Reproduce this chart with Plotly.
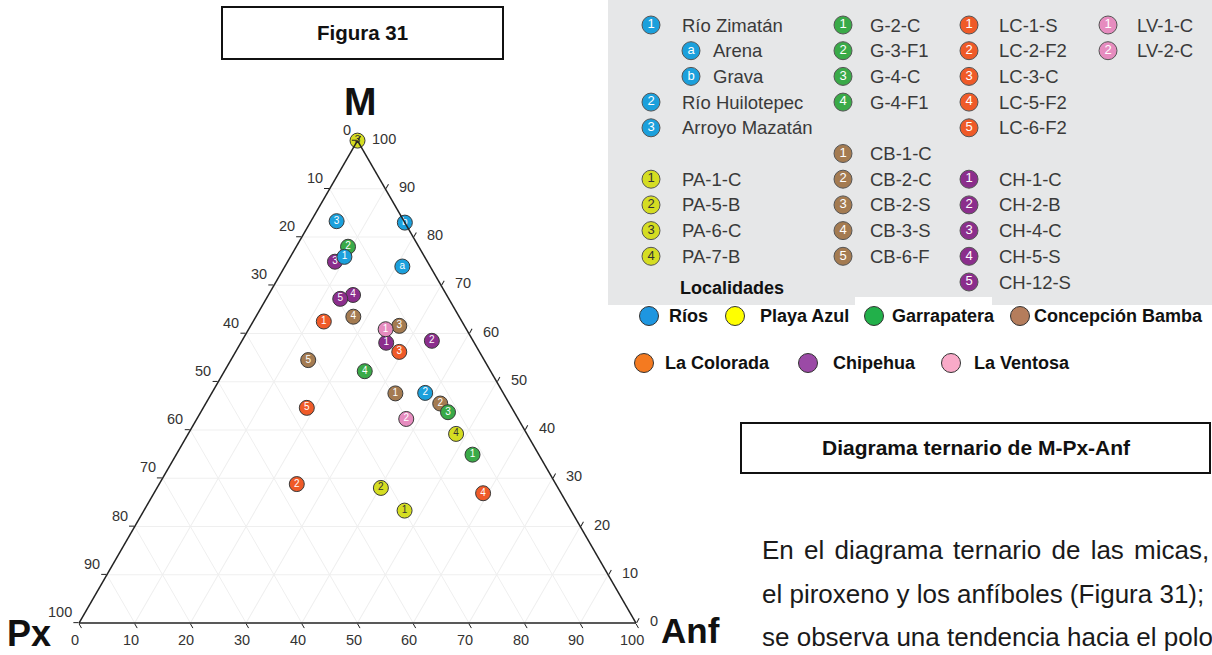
import math
import plotly.graph_objects as go

W, H = 1212, 655
FONT = "Liberation Sans, Arial, sans-serif"

# ---------------- sample compositions (%): M = micas, Px = piroxeno, Anf = anfíboles
rios_tag = ["1", "a", "b", "2", "3"]
rios_name = ["Río Zimatán", "Arena", "Grava", "Río Huilotepec", "Arroyo Mazatán"]
rios_m = [75.9, 73.9, 83.0, 47.7, 83.3]
rios_px = [14.4, 5.0, 0.0, 14.0, 12.1]
rios_anf = [9.7, 21.1, 17.0, 38.3, 4.6]

pa_name = ["PA-1-C", "PA-5-B", "PA-6-C", "PA-7-B"]
pa_m = [23.3, 28.0, 100.0, 39.2]
pa_px = [29.9, 31.8, 0.0, 12.7]
pa_anf = [46.8, 40.2, 0.0, 48.1]

g_name = ["G-2-C", "G-3-F1", "G-4-C", "G-4-F1"]
g_m = [34.9, 78.0, 43.7, 52.2]
g_px = [11.9, 12.7, 11.9, 22.6]
g_anf = [53.2, 9.3, 44.4, 25.2]

cb_name = ["CB-1-C", "CB-2-C", "CB-2-S", "CB-3-S", "CB-6-F"]
cb_m = [47.6, 45.5, 61.6, 63.5, 54.5]
cb_px = [19.4, 12.4, 11.7, 19.0, 31.6]
cb_anf = [33.0, 42.1, 26.7, 17.5, 13.9]

lc_name = ["LC-1-S", "LC-2-F2", "LC-3-C", "LC-5-F2", "LC-6-F2"]
lc_m = [62.5, 28.8, 56.2, 26.9, 44.6]
lc_px = [24.8, 46.5, 14.4, 14.0, 36.8]
lc_anf = [12.7, 24.7, 29.4, 59.1, 18.6]

ch_name = ["CH-1-C", "CH-2-B", "CH-4-C", "CH-5-S", "CH-12-S"]
ch_m = [58.1, 58.5, 74.9, 68.0, 67.2]
ch_px = [15.8, 7.4, 16.6, 16.8, 19.5]
ch_anf = [26.1, 34.1, 8.5, 15.2, 13.3]

lv_name = ["LV-1-C", "LV-2-C"]
lv_m = [60.9, 42.3]
lv_px = [14.5, 20.1]
lv_anf = [24.6, 37.6]

# colours per locality
C_RIOS, C_PA, C_G, C_CB = "#1ba0dc", "#d5dd22", "#3aaa48", "#a47b51"
C_LC, C_CH, C_LV = "#ef5a28", "#8b2e8c", "#e68cbf"

localidades = ["Ríos", "Playa Azul", "Garrapatera", "Concepción Bamba",
               "La Colorada", "Chipehua", "La Ventosa"]
localidad_color = ["#1e96e0", "#ffff00", "#22b04a", "#b57d5c",
                   "#f47a20", "#9b4aa6", "#f9aac8"]

ticks = list(range(0, 101, 10))

# triangle placement on the page (pixels)
TX0, TX1, TYB = 79, 636, 623
SIDE = TX1 - TX0
THGT = SIDE * math.sqrt(3) / 2
TYT = TYB - THGT

fig = go.Figure()


def nums(n):
    return [str(i + 1) for i in range(n)]


groups = [
    (cb_m, cb_px, cb_anf, nums(5), C_CB, "white"),
    (ch_m, ch_px, ch_anf, nums(5), C_CH, "white"),
    (g_m, g_px, g_anf, nums(4), C_G, "white"),
    (lc_m, lc_px, lc_anf, nums(5), C_LC, "white"),
    (lv_m, lv_px, lv_anf, nums(2), C_LV, "white"),
    (pa_m, pa_px, pa_anf, nums(4), C_PA, "#333333"),
    (rios_m, rios_px, rios_anf, rios_tag, C_RIOS, "white"),
]
for m, px, anf, tags, col, tcol in groups:
    fig.add_trace(go.Scatterternary(
        a=m, b=px, c=anf, text=tags, mode="markers+text",
        textposition="middle center",
        textfont=dict(family=FONT, size=10, color=tcol),
        marker=dict(size=15, color=col, line=dict(color="#3a3a3a", width=1)),
        hoverinfo="skip", showlegend=False, cliponaxis=False,
    ))


def tern_axis():
    return dict(
        tickmode="array", tickvals=ticks, showticklabels=False,
        ticks="outside", ticklen=5, tickwidth=1, tickcolor="#222",
        linecolor="#222", linewidth=1.5, showline=True,
        showgrid=True, gridcolor="#efefef", gridwidth=1,
        title=dict(text=""), min=0,
    )


fig.update_layout(ternary=dict(
    sum=100, bgcolor="white",
    domain=dict(x=[TX0 / W, TX1 / W], y=[(H - TYB) / H, (H - TYT) / H]),
    aaxis=tern_axis(), baxis=tern_axis(), caxis=tern_axis(),
))

annotations = []

# axis scale labels: Px along the left edge, M along the right edge, Anf along the base
tick_font = dict(family=FONT, size=14.5, color="#333")
for v in ticks:
    # left edge point where Px = v
    xl = (TX0 + SIDE / 2) - SIDE / 2 * v / 100
    yl = TYT + THGT * v / 100
    annotations.append(dict(x=xl - 5, y=yl - 11, text=str(v), xanchor="right",
                            yanchor="middle", font=tick_font))
    # right edge point where M = v
    xr = TX1 - SIDE / 2 * v / 100
    yr = TYB - THGT * v / 100
    annotations.append(dict(x=xr + 12, y=yr - 2, text=str(v), xanchor="left",
                            yanchor="middle", font=tick_font))
    # base point where Anf = v
    xb = TX0 + SIDE * v / 100
    annotations.append(dict(x=xb - 4, y=TYB + 17, text=str(v), xanchor="center",
                            yanchor="middle", font=tick_font))
for a in annotations:
    a.update(xref="x", yref="y", showarrow=False)

# ---------------- legend panel (pixel-like overlay axes)
ROW0, ROWH = 25, 25.7


def row_y(r):
    return ROW0 + ROWH * r


leg_cols = []  # (circle x, text x, tags, names, rows, colour, tag colour)
leg_cols.append((651, 680, ["1"], rios_name[:1], [0], C_RIOS, "white"))
leg_cols.append((691, 711, ["a", "b"], rios_name[1:3], [1, 2], C_RIOS, "white"))
leg_cols.append((651, 680, ["2", "3"], rios_name[3:], [3, 4], C_RIOS, "white"))
leg_cols.append((651, 680, nums(4), pa_name, [6, 7, 8, 9], C_PA, "#333333"))
leg_cols.append((843, 868, nums(4), g_name, [0, 1, 2, 3], C_G, "white"))
leg_cols.append((843, 868, nums(5), cb_name, [5, 6, 7, 8, 9], C_CB, "white"))
leg_cols.append((969, 997, nums(5), lc_name, [0, 1, 2, 3, 4], C_LC, "white"))
leg_cols.append((969, 997, nums(5), ch_name, [6, 7, 8, 9, 10], C_CH, "white"))
leg_cols.append((1108, 1135, nums(2), lv_name, [0, 1], C_LV, "white"))

for cx, tx, tags, names, rows, col, tcol in leg_cols:
    ys = [row_y(r) for r in rows]
    fig.add_trace(go.Scatter(
        x=[cx] * len(ys), y=ys, text=tags, mode="markers+text",
        textposition="middle center",
        textfont=dict(family=FONT, size=13, color=tcol),
        marker=dict(size=18, color=col, line=dict(color="#555", width=1)),
        hoverinfo="skip", showlegend=False, xaxis="x", yaxis="y",
    ))
    for nm, y in zip(names, ys):
        annotations.append(dict(
            x=tx, y=y, xref="x", yref="y", text=nm, showarrow=False,
            xanchor="left", yanchor="middle",
            font=dict(family=FONT, size=18.5, color="#3a3a3a")))

annotations.append(dict(x=678, y=288, xref="x", yref="y", text="<b>Localidades</b>",
                        showarrow=False, xanchor="left", yanchor="middle",
                        font=dict(family=FONT, size=18, color="#111")))

loc_rows = [316, 316, 316, 316, 363, 363, 363]
loc_cx = [649, 735, 874, 1020, 644, 808, 951]
loc_tx = [667, 758, 890, 1032, 663, 831, 972]
fig.add_trace(go.Scatter(
    x=loc_cx, y=loc_rows, mode="markers",
    marker=dict(size=19, color=localidad_color, line=dict(color="#333", width=1)),
    hoverinfo="skip", showlegend=False, xaxis="x", yaxis="y",
))
for nm, x, y in zip(localidades, loc_tx, loc_rows):
    annotations.append(dict(x=x, y=y, xref="x", yref="y", text="<b>%s</b>" % nm,
                            showarrow=False, xanchor="left", yanchor="middle",
                            font=dict(family=FONT, size=18, color="#111")))

# titles, vertex labels and body text
big = [
    dict(x=362, y=32, text="<b>Figura 31</b>", font=dict(family=FONT, size=20.5, color="#111")),
    dict(x=976, y=447, text="<b>Diagrama ternario de M-Px-Anf</b>",
         font=dict(family=FONT, size=21, color="#111")),
    dict(x=360, y=101, text="<b>M</b>", font=dict(family=FONT, size=39, color="#111")),
    dict(x=29, y=633, text="<b>Px</b>", font=dict(family=FONT, size=36, color="#111")),
    dict(x=690, y=630, text="<b>Anf</b>", font=dict(family=FONT, size=35, color="#111")),
]
for a in big:
    a.update(xref="x", yref="y", showarrow=False, xanchor="center", yanchor="middle")
annotations += big

body = ['<span style="word-spacing:3px">En el diagrama ternario de las micas,</span>',
        "el piroxeno y los anfíboles (Figura 31);",
        "se observa una tendencia hacia el polo"]
for i, line in enumerate(body):
    annotations.append(dict(x=760, y=550 + 43.5 * i, xref="x", yref="y", text=line,
                            showarrow=False, xanchor="left", yanchor="middle",
                            font=dict(family=FONT, size=26, color="#1a1a1a")))

shapes = [
    dict(type="rect", x0=608, x1=W, y0=0, y1=305, xref="x", yref="y",
         fillcolor="#e6e7e8", line=dict(width=0), layer="below"),
    dict(type="rect", x0=855, x1=992, y0=297, y1=305, xref="x", yref="y",
         fillcolor="white", line=dict(width=0), layer="below"),
    dict(type="rect", x0=222, x1=503, y0=7, y1=59, xref="x", yref="y",
         line=dict(color="#111", width=2), layer="below"),
    dict(type="rect", x0=741, x1=1210, y0=423, y1=473, xref="x", yref="y",
         line=dict(color="#111", width=2), layer="below"),
]

fig.update_layout(
    width=W, height=H, margin=dict(l=0, r=0, t=0, b=0),
    paper_bgcolor="white", plot_bgcolor="rgba(0,0,0,0)",
    xaxis=dict(domain=[0, 1], range=[0, W], visible=False, fixedrange=True),
    yaxis=dict(domain=[0, 1], range=[H, 0], visible=False, fixedrange=True),
    annotations=annotations, shapes=shapes, hovermode=False,
    font=dict(family=FONT),
)

fig.write_html("out.html")
